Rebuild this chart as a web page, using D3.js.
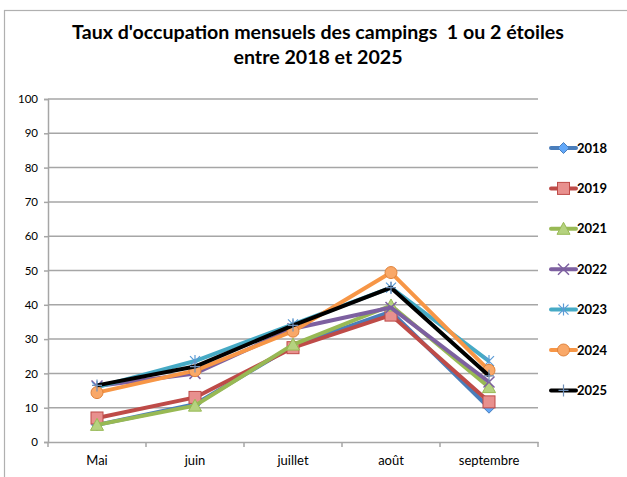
<!DOCTYPE html>
<html><head><meta charset="utf-8">
<script src="https://cdn.jsdelivr.net/npm/d3@7"></script>
<style>body{margin:0;background:#fff;} svg{display:block;font-family:Lato,"Open Sans",sans-serif;}</style>
</head><body>
<svg id="c" width="627" height="477"></svg>
<script>
const months = ["Mai","juin","juillet","août","septembre"];
const years = ["2018","2019","2021","2022","2023","2024","2025"];
const s2018 = [5, 11, 28, 38, 10];
const s2019 = [7, 13, 27.5, 37, 11.7];
const s2021 = [5, 10.6, 28.4, 39.8, 16];
const s2022 = [16.3, 20, 33, 39.2, 17.5];
const s2023 = [16, 23.6, 34.3, 45, 23.6];
const s2024 = [14.4, 20.8, 32.3, 49.4, 20.9];
const s2025 = [16.5, 22, 34, 45, 19.3];
const yTicks = [0,10,20,30,40,50,60,70,80,90,100];
const colors = ["#4A7EBB","#BE4B48","#98B954","#7D60A0","#46AAC5","#F79646","#000000"];
const markers = ["diamond","square","triangle","x","star","circle","plus"];
const seriesVals = [s2018,s2019,s2021,s2022,s2023,s2024,s2025];

const svg = d3.select("#c");
svg.append("rect").attr("x",4.5).attr("y",10.5).attr("width",640).attr("height",480)
  .attr("fill","none").attr("stroke","#b0b0b0").attr("stroke-width",1.2);

svg.append("text").attr("x",318).attr("y",39).attr("text-anchor","middle")
  .attr("font-weight","bold").attr("font-size",19.6).attr("fill","#000")
  .style("white-space","pre")
  .text("Taux d'occupation mensuels des campings  1 ou 2 étoiles");
svg.append("text").attr("x",318).attr("y",64).attr("text-anchor","middle")
  .attr("font-weight","bold").attr("font-size",19.6).attr("fill","#000")
  .text("entre 2018 et 2025");

const x = d3.scaleBand().domain(months).range([48,538]);
const y = d3.scaleLinear().domain([0,100]).range([442,99]);

svg.append("g").selectAll("line").data(yTicks.filter(d=>d>0)).join("line")
  .attr("x1",48).attr("x2",538).attr("y1",d=>y(d)).attr("y2",d=>y(d))
  .attr("stroke","#a6a6a6").attr("stroke-width",1.5);

const ya = svg.append("g").attr("transform","translate(48,0)")
  .call(d3.axisLeft(y).tickValues(yTicks).tickSize(4).tickPadding(6));
ya.select(".domain").attr("stroke","#a6a6a6").attr("stroke-width",1.5);
ya.selectAll(".tick line").attr("stroke","#a6a6a6").attr("stroke-width",1.5);
ya.selectAll("text").attr("font-size",11.5).attr("font-family","Lato, sans-serif").attr("fill","#000");

const xa = svg.append("g").attr("transform","translate(0,442)")
  .call(d3.axisBottom(x).tickSize(0).tickPadding(14));
xa.select(".domain").attr("stroke","#a6a6a6").attr("stroke-width",1.5);
xa.selectAll("text").attr("font-size",13).attr("font-family","Lato, sans-serif").attr("fill","#000");
svg.append("g").selectAll("line").data(months.concat(["_end"])).join("line")
  .attr("x1",(d,i)=> i<months.length ? x(d) : x.range()[1])
  .attr("x2",(d,i)=> i<months.length ? x(d) : x.range()[1])
  .attr("y1",442).attr("y2",447).attr("stroke","#a6a6a6").attr("stroke-width",1.5);

function drawMarker(g, type, color, cx, cy){
  const lighter = d3.color(color).brighter(0.8).formatHex();
  if(type==="diamond"){
    g.append("path").attr("d",`M${cx},${cy-5.5}L${cx+5.5},${cy}L${cx},${cy+5.5}L${cx-5.5},${cy}Z`)
      .attr("fill",lighter).attr("stroke",color).attr("stroke-width",1);
  } else if(type==="square"){
    g.append("rect").attr("x",cx-6).attr("y",cy-6).attr("width",12).attr("height",12)
      .attr("fill","#E8908E").attr("stroke",color).attr("stroke-width",1);
  } else if(type==="triangle"){
    g.append("path").attr("d",`M${cx},${cy-6.5}L${cx+6.5},${cy+5.5}L${cx-6.5},${cy+5.5}Z`)
      .attr("fill","#B5D27F").attr("stroke",color).attr("stroke-width",1);
  } else if(type==="x"){
    g.append("path").attr("d",`M${cx-5.5},${cy-5.5}L${cx+5.5},${cy+5.5}M${cx-5.5},${cy+5.5}L${cx+5.5},${cy-5.5}`)
      .attr("stroke",color).attr("stroke-width",1.5);
  } else if(type==="star"){
    g.append("path").attr("d",`M${cx-5},${cy-5}L${cx+5},${cy+5}M${cx-5},${cy+5}L${cx+5},${cy-5}M${cx},${cy-6}L${cx},${cy+6}`)
      .attr("stroke","#5B9BD5").attr("stroke-width",1.2);
  } else if(type==="circle"){
    g.append("circle").attr("cx",cx).attr("cy",cy).attr("r",6)
      .attr("fill","#F9A868").attr("stroke","#E0823A").attr("stroke-width",1);
  } else if(type==="plus"){
    g.append("path").attr("d",`M${cx-5},${cy}L${cx+5},${cy}M${cx},${cy-6}L${cx},${cy+6}`)
      .attr("stroke","#6F8FB8").attr("stroke-width",1.2);
  }
}

const line = d3.line().x((d,i)=>x(months[i])+x.bandwidth()/2).y(d=>y(d));
const plot = svg.append("g");
years.forEach((yr,k)=>{
  const vals = seriesVals[k];
  const g = plot.append("g");
  g.append("path").datum(vals).attr("d",line).attr("fill","none")
    .attr("stroke",colors[k]).attr("stroke-width",4).attr("stroke-linejoin","round");
  vals.forEach((v,i)=> drawMarker(g, markers[k], colors[k], x(months[i])+x.bandwidth()/2, y(v)));
});

const lg = svg.append("g");
years.forEach((yr,k)=>{
  const ly = 148 + k*40.4;
  const g = lg.append("g");
  g.append("line").attr("x1",551).attr("x2",576).attr("y1",ly).attr("y2",ly)
    .attr("stroke",colors[k]).attr("stroke-width",4).attr("stroke-linecap","round");
  drawMarker(g, markers[k], colors[k], 563.5, ly);
  g.append("text").attr("x",577).attr("y",ly+4.5).attr("font-size",13).attr("font-weight","bold")
    .attr("fill","#000").text(yr);
});
</script>
</body></html>
